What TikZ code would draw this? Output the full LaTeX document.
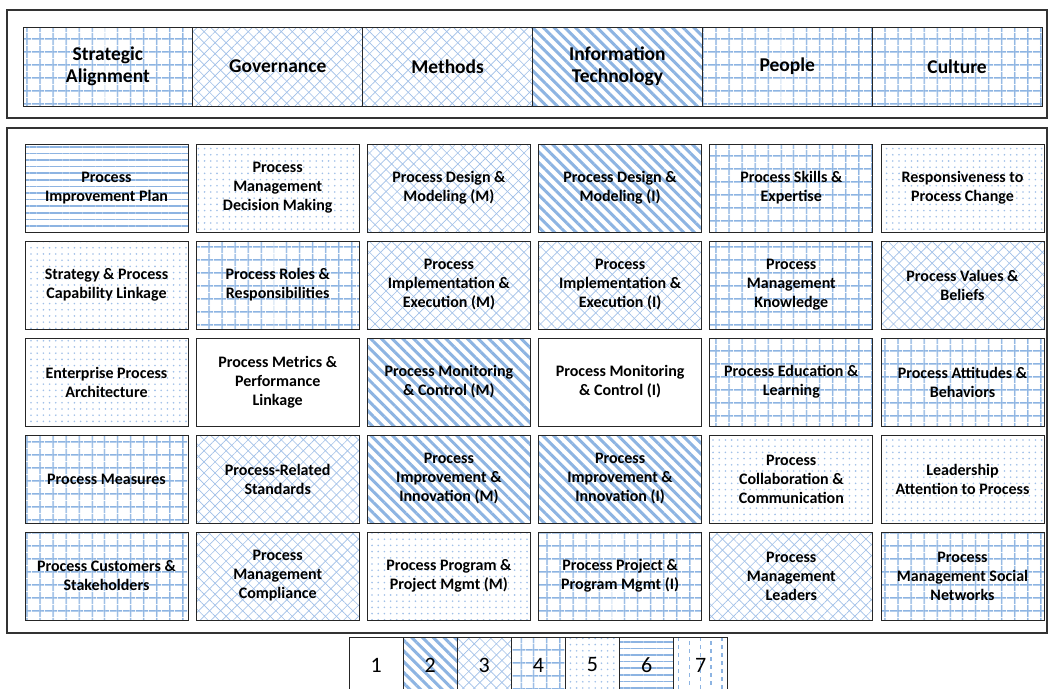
\documentclass[tikz,border=0pt]{standalone}
\usepackage{fontspec}
\setmainfont{Carlito}
\usetikzlibrary{patterns.meta}
\definecolor{patblue}{RGB}{141,180,226}
\definecolor{hatchblue}{RGB}{160,192,232}
\definecolor{edge}{RGB}{38,38,38}
\begin{document}
\begin{tikzpicture}[x=1pt,y=-1pt,
  cell/.style={draw=edge, line width=0.9pt, inner sep=0pt, align=center,
    font=\bfseries\fontsize{16}{19}\selectfont,
    minimum width=163pt, minimum height=88pt},
  head/.style={cell, minimum width=169.8pt, minimum height=79pt,
    font=\bfseries\fontsize{19.5}{22.5}\selectfont},
  keycell/.style={cell, minimum width=54.1pt, minimum height=56pt,
    font=\fontsize{22}{26}\selectfont},
  frame/.style={draw=black!80, line width=1.3pt},
  % 2: wide diagonal stripes
  pat2/.style={pattern={Lines[angle=-45,distance=7.6pt,line width=3pt]}, pattern color=patblue},
  % 3: thin diagonal cross-hatch
  pat3/.style={preaction={pattern={Lines[angle=45,distance=7.8pt,line width=0.65pt]}, pattern color=hatchblue},
    pattern={Lines[angle=-45,distance=7.8pt,line width=0.65pt]}, pattern color=hatchblue},
  % 4: square grid
  pat4/.style={preaction={pattern={Lines[angle=0,distance=13pt,line width=1.6pt]}, pattern color=patblue},
    pattern={Lines[angle=90,distance=13pt,line width=1.6pt]}, pattern color=patblue},
  % 5: fine dots
  pat5/.style={pattern={Dots[distance=6.2pt,radius=0.9pt]}, pattern color=hatchblue},
  % 6: horizontal lines
  pat6/.style={pattern={Lines[angle=0,distance=6.6pt,line width=1.5pt]}, pattern color=patblue},
  % 7: staggered vertical dashes
  pat7/.style={path picture={
    \foreach \i in {0,2,4}{
      \draw[patblue, line width=1.5pt, dash pattern=on 4pt off 4pt]
        ([xshift=\i*10.8pt+5pt]path picture bounding box.north west) --
        ([xshift=\i*10.8pt+5pt]path picture bounding box.south west);}
    \foreach \i in {1,3}{
      \draw[patblue, line width=1.5pt, dash pattern=on 4pt off 4pt, dash phase=4pt]
        ([xshift=\i*10.8pt+5pt]path picture bounding box.north west) --
        ([xshift=\i*10.8pt+5pt]path picture bounding box.south west);}
  }},
]
\clip (0,0) rectangle (1049,688);
\fill[white] (0,0) rectangle (1049,688);

% dimension frame
\draw[frame] (7,10) rectangle (1047,118);
\node[head,pat4] (h1) at (107.9,66.5) {Strategic\\Alignment};
\node[head,pat3] (h2) at (277.8,66.5) {Governance};
\node[head,pat3] (h3) at (447.6,66.5) {Methods};
\node[head,pat2] (h4) at (617.4,66.5) {Information\\Technology};
\node[head,pat4] (h5) at (787.3,66.5) {People};
\node[head,pat4] (h6) at (957.1,66.5) {Culture};

% capability frame
\draw[frame] (7,128) rectangle (1047,633);

% row 1
\node[cell,pat6] (r1c1) at (106.5,188) {Process\\Improvement Plan};
\node[cell,pat5] (r1c2) at (277.7,188) {Process\\Management\\Decision Making};
\node[cell,pat3] (r1c3) at (448.9,188) {Process Design \&\\Modeling (M)};
\node[cell,pat2] (r1c4) at (620.1,188) {Process Design \&\\Modeling (I)};
\node[cell,pat4] (r1c5) at (791.3,188) {Process Skills \&\\Expertise};
\node[cell,pat5] (r1c6) at (962.5,188) {Responsiveness to\\Process Change};
% row 2
\node[cell,pat5] (r2c1) at (106.5,285) {Strategy \& Process\\Capability Linkage};
\node[cell,pat4] (r2c2) at (277.7,285) {Process Roles \&\\Responsibilities};
\node[cell,pat3] (r2c3) at (448.9,285) {Process\\Implementation \&\\Execution (M)};
\node[cell,pat3] (r2c4) at (620.1,285) {Process\\Implementation \&\\Execution (I)};
\node[cell,pat4] (r2c5) at (791.3,285) {Process\\Management\\Knowledge};
\node[cell,pat3] (r2c6) at (962.5,285) {Process Values \&\\Beliefs};
% row 3
\node[cell,pat5] (r3c1) at (106.5,382) {Enterprise Process\\Architecture};
\node[cell]      (r3c2) at (277.7,382) {Process Metrics \&\\Performance\\Linkage};
\node[cell,pat2] (r3c3) at (448.9,382) {Process Monitoring\\\& Control (M)};
\node[cell]      (r3c4) at (620.1,382) {Process Monitoring\\\& Control (I)};
\node[cell,pat4] (r3c5) at (791.3,382) {Process Education \&\\Learning};
\node[cell,pat4] (r3c6) at (962.5,382) {Process Attitudes \&\\Behaviors};
% row 4
\node[cell,pat4] (r4c1) at (106.5,479) {Process Measures};
\node[cell,pat3] (r4c2) at (277.7,479) {Process-Related\\Standards};
\node[cell,pat2] (r4c3) at (448.9,479) {Process\\Improvement \&\\Innovation (M)};
\node[cell,pat2] (r4c4) at (620.1,479) {Process\\Improvement \&\\Innovation (I)};
\node[cell,pat5] (r4c5) at (791.3,479) {Process\\Collaboration \&\\Communication};
\node[cell,pat5] (r4c6) at (962.5,479) {Leadership\\Attention to Process};
% row 5
\node[cell,pat4] (r5c1) at (106.5,576) {Process Customers \&\\Stakeholders};
\node[cell,pat3] (r5c2) at (277.7,576) {Process\\Management\\Compliance};
\node[cell,pat5] (r5c3) at (448.9,576) {Process Program \&\\Project Mgmt (M)};
\node[cell,pat4] (r5c4) at (620.1,576) {Process Project \&\\Program Mgmt (I)};
\node[cell,pat3] (r5c5) at (791.3,576) {Process\\Management\\Leaders};
\node[cell,pat4] (r5c6) at (962.5,576) {Process\\Management Social\\Networks};

% pattern key
\node[keycell]      (k1) at (376.1,665) {1};
\node[keycell,pat2] (k2) at (430.2,665) {2};
\node[keycell,pat3] (k3) at (484.3,665) {3};
\node[keycell,pat4] (k4) at (538.4,665) {4};
\node[keycell,pat5] (k5) at (592.5,665) {5};
\node[keycell,pat6] (k6) at (646.6,665) {6};
\node[keycell,pat7] (k7) at (700.7,665) {7};
\end{tikzpicture}
\end{document}
